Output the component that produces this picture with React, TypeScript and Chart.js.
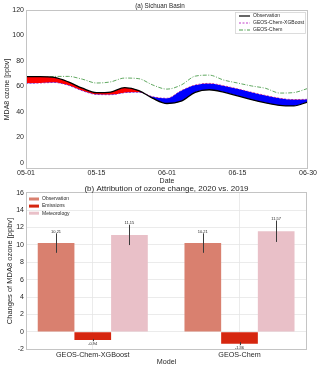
import React, { useEffect, useRef } from 'react';
import { Chart, registerables } from 'chart.js';
Chart.register(...registerables);

// ---------- Panel (a) data ----------
const days = [0, 3, 6, 9, 12, 15, 18, 21, 24, 27, 30, 33, 36, 39, 42, 45, 48, 51, 54, 57, 60];
const observation = [67.6, 67.6, 67.0, 63.5, 58.5, 55.0, 55.5, 58.9, 56.7, 50.5, 46.5, 48.3, 55.3, 57.3, 55.5, 52.5, 49.5, 47.0, 45.0, 44.6, 47.8];
const xgboost = [62.4, 62.6, 63.0, 60.8, 56.5, 53.6, 53.4, 55.0, 55.4, 51.8, 50.6, 56.5, 61.0, 62.3, 60.5, 58.0, 55.3, 52.8, 50.6, 49.6, 49.8];
const geosChem = [64.0, 66.0, 67.8, 67.8, 65.6, 62.6, 63.5, 66.5, 66.0, 61.0, 57.8, 61.0, 68.0, 68.8, 65.0, 62.6, 60.3, 58.4, 54.7, 55.1, 58.4];
const dateTickValues = [0, 15, 30, 45, 60];
const dateTickLabels = ['05-01', '05-15', '06-01', '06-15', '06-30'];
const ozoneTicks = [0, 20, 40, 60, 80, 100, 120];

// ---------- Panel (b) data ----------
const models = ['GEOS-Chem-XGBoost', 'GEOS-Chem'];
const obsChange = [10.21, 10.21];
const obsErr = [1.12, 1.12];
const emisChange = [-0.94, -1.36];
const emisErr = [0.13, 0.17];
const metChange = [11.15, 11.57];
const metErr = [1.17, 1.23];
const changeTicks = [-2, 0, 2, 4, 6, 8, 10, 12, 14, 16];

const FONT = 'Liberation Sans, Arial, sans-serif';
const TXT = '#262626';
const FRAME = '#c4c4c4';

function TopChart() {
  const ref = useRef<HTMLCanvasElement>(null);
  useEffect(() => {
    const pts = (arr: number[]) => days.map((d, i) => ({ x: d, y: arr[i] }));
    const panelPlugin = {
      id: 'panelA',
      afterDraw(chart: any) {
        const { ctx, chartArea: a } = chart;
        ctx.save();
        ctx.strokeStyle = FRAME;
        ctx.lineWidth = 1;
        ctx.strokeRect(a.left + 0.5, a.top + 0.5, a.right - a.left - 1, a.bottom - a.top - 1);
        ctx.fillStyle = TXT;
        ctx.font = `6.3px ${FONT}`;
        ctx.textAlign = 'center';
        ctx.textBaseline = 'middle';
        ctx.fillText('(a) Sichuan Basin', 160, 6);
        // legend
        const bx = 235, by = 12, bw = 71, bh = 22;
        ctx.fillStyle = '#ffffff';
        ctx.fillRect(bx, by, bw, bh);
        ctx.strokeStyle = '#d4d4d4';
        ctx.lineWidth = 0.8;
        ctx.strokeRect(bx + 0.5, by + 0.5, bw - 1, bh - 1);
        const items = [
          { t: 'Observation', c: '#000000', d: [] as number[], w: 1.2 },
          { t: 'GEOS-Chem-XGBoost', c: '#c040c8', d: [2, 1.5], w: 1 },
          { t: 'GEOS-Chem', c: '#4e9e4e', d: [4, 1.5, 1, 1.5], w: 1 },
        ];
        items.forEach((it, i) => {
          const y = 16 + i * 7;
          ctx.beginPath();
          ctx.setLineDash(it.d);
          ctx.strokeStyle = it.c;
          ctx.lineWidth = it.w;
          ctx.moveTo(239, y);
          ctx.lineTo(250, y);
          ctx.stroke();
          ctx.setLineDash([]);
          ctx.fillStyle = TXT;
          ctx.font = `5px ${FONT}`;
          ctx.textAlign = 'left';
          ctx.textBaseline = 'middle';
          ctx.fillText(it.t, 253, y);
        });
        ctx.restore();
      },
    };
    const chart = new Chart(ref.current!, {
      type: 'line',
      data: {
        datasets: [
          {
            label: 'Observation',
            data: pts(observation),
            borderColor: '#000000',
            borderWidth: 1.3,
            pointRadius: 0,
            cubicInterpolationMode: 'monotone',
            fill: { target: '+1', above: '#ff0000', below: '#0000ff' },
          },
          {
            label: 'GEOS-Chem-XGBoost',
            data: pts(xgboost),
            borderColor: '#c040c8',
            borderDash: [2, 1.5],
            borderWidth: 1,
            pointRadius: 0,
            cubicInterpolationMode: 'monotone',
            fill: false,
          },
          {
            label: 'GEOS-Chem',
            data: pts(geosChem),
            borderColor: '#4e9e4e',
            borderDash: [4, 1.5, 1, 1.5],
            borderWidth: 0.9,
            pointRadius: 0,
            cubicInterpolationMode: 'monotone',
            fill: false,
          },
        ],
      } as any,
      options: {
        responsive: false,
        animation: false,
        events: [],
        layout: { padding: { top: 10, right: 12, left: 0, bottom: 0 } },
        plugins: { legend: { display: false }, title: { display: false }, tooltip: { enabled: false } },
        scales: {
          x: {
            type: 'linear',
            min: 0,
            max: 60,
            afterBuildTicks: (s: any) => { s.ticks = dateTickValues.map((v) => ({ value: v })); },
            afterFit: (s: any) => { s.height = 18; },
            ticks: {
              callback: (v: any) => { const i = dateTickValues.indexOf(Number(v)); return i >= 0 ? dateTickLabels[i] : ''; },
              font: { size: 7, family: FONT },
              color: TXT,
              padding: 0,
              maxRotation: 0,
              autoSkip: false,
            },
            grid: { display: false, drawTicks: false },
            border: { display: false },
            title: { display: true, text: 'Date', font: { size: 7, family: FONT }, color: TXT, padding: { top: 0, bottom: 2 } },
          },
          y: {
            type: 'linear',
            min: -5,
            max: 120,
            afterBuildTicks: (s: any) => { s.ticks = ozoneTicks.map((v) => ({ value: v })); },
            afterFit: (s: any) => { s.width = 26; },
            ticks: { font: { size: 7, family: FONT }, color: TXT, padding: 2 },
            grid: { display: false, drawTicks: false },
            border: { display: false },
            title: { display: true, text: 'MDA8 ozone [ppbv]', font: { size: 7, family: FONT }, color: TXT, padding: { top: 2.5, bottom: 0 } },
          },
        },
      } as any,
      plugins: [panelPlugin],
    });
    return () => chart.destroy();
  }, []);
  return <canvas ref={ref} width={320} height={187} style={{ position: 'absolute', left: 0, top: 0, width: 320, height: 187 }} />;
}

function BottomChart() {
  const ref = useRef<HTMLCanvasElement>(null);
  useEffect(() => {
    const values = [obsChange, emisChange, metChange];
    const errs = [obsErr, emisErr, metErr];
    const colors = ['#d9806f', '#d6260f', '#e9c0c8'];
    const names = ['Observation', 'Emissions', 'Meteorology'];
    const panelPlugin = {
      id: 'panelB',
      afterDatasetsDraw(chart: any) {
        const { ctx } = chart;
        const ys = chart.scales.y;
        ctx.save();
        values.forEach((vals, di) => {
          const meta = chart.getDatasetMeta(di);
          meta.data.forEach((el: any, j: number) => {
            const v = vals[j];
            const e = errs[di][j];
            const yt = ys.getPixelForValue(v + e);
            const yb = ys.getPixelForValue(v - e);
            ctx.beginPath();
            ctx.strokeStyle = '#3a3a3a';
            ctx.lineWidth = 1;
            ctx.moveTo(Math.round(el.x) + 0.5, yt);
            ctx.lineTo(Math.round(el.x) + 0.5, yb);
            ctx.stroke();
            ctx.fillStyle = TXT;
            ctx.font = `4px ${FONT}`;
            ctx.textAlign = 'center';
            if (v >= 0) {
              ctx.textBaseline = 'bottom';
              ctx.fillText(v.toFixed(2), el.x, yt + 0.5);
            } else {
              ctx.textBaseline = 'top';
              ctx.fillText(v.toFixed(2), el.x, yb + 0.5);
            }
          });
        });
        ctx.restore();
      },
      afterDraw(chart: any) {
        const { ctx, chartArea: a } = chart;
        ctx.save();
        ctx.strokeStyle = FRAME;
        ctx.lineWidth = 1;
        ctx.strokeRect(a.left + 0.5, a.top + 0.5, a.right - a.left - 1, a.bottom - a.top - 1);
        ctx.fillStyle = TXT;
        ctx.font = `8px ${FONT}`;
        ctx.textAlign = 'center';
        ctx.textBaseline = 'middle';
        ctx.fillText('(b) Attribution of ozone change, 2020 vs. 2019', (a.left + a.right) / 2, 10.3);
        names.forEach((n, i) => {
          const y = 21 + i * 7.1;
          ctx.fillStyle = colors[i];
          ctx.fillRect(29, y - 1.5, 10, 3);
          ctx.fillStyle = TXT;
          ctx.font = `5px ${FONT}`;
          ctx.textAlign = 'left';
          ctx.textBaseline = 'middle';
          ctx.fillText(n, 42, y);
        });
        ctx.restore();
      },
    };
    const chart = new Chart(ref.current!, {
      type: 'bar',
      data: {
        datasets: values.map((vals, di) => ({
          label: names[di],
          data: models.map((_, i) => ({ x: i, y: vals[i] })),
          backgroundColor: colors[di],
          borderWidth: 0,
          categoryPercentage: 0.75,
          barPercentage: 1.0,
        })),
      } as any,
      options: {
        responsive: false,
        animation: false,
        events: [],
        layout: { padding: { top: 14, right: 13, left: 0, bottom: 0 } },
        plugins: { legend: { display: false }, title: { display: false }, tooltip: { enabled: false } },
        scales: {
          x: {
            type: 'linear',
            min: -0.455,
            max: 1.46,
            offset: false,
            afterBuildTicks: (s: any) => { s.ticks = models.map((_, i) => ({ value: i })); },
            afterFit: (s: any) => { s.height = 19; },
            ticks: {
              callback: (v: any) => models[Number(v)] ?? '',
              font: { size: 7.2, family: FONT },
              color: TXT,
              padding: 1,
              maxRotation: 0,
              autoSkip: false,
            },
            grid: { color: '#e6e6e6', lineWidth: 0.8, drawTicks: false, offset: false },
            border: { display: false },
            title: { display: true, text: 'Model', font: { size: 7.2, family: FONT }, color: TXT, padding: { top: 0, bottom: 3 } },
          },
          y: {
            type: 'linear',
            min: -2.08,
            max: 16.08,
            afterBuildTicks: (s: any) => { s.ticks = changeTicks.map((v) => ({ value: v })); },
            afterFit: (s: any) => { s.width = 26; },
            ticks: { font: { size: 7, family: FONT }, color: TXT, padding: 2 },
            grid: { color: '#e6e6e6', lineWidth: 0.8, drawTicks: false },
            border: { display: false },
            title: { display: true, text: 'Changes of MDA8 ozone [ppbv]', font: { size: 7.5, family: FONT }, color: TXT, padding: { top: 5.5, bottom: 0 } },
          },
        },
      } as any,
      plugins: [panelPlugin],
    });
    return () => chart.destroy();
  }, []);
  return <canvas ref={ref} width={320} height={191} style={{ position: 'absolute', left: 0, top: 178, width: 320, height: 191 }} />;
}

export default function App() {
  return (
    <div style={{ position: 'fixed', left: 0, top: 0, width: 320, height: 369, background: '#ffffff', overflow: 'hidden' }}>
      <TopChart />
      <BottomChart />
    </div>
  );
}
